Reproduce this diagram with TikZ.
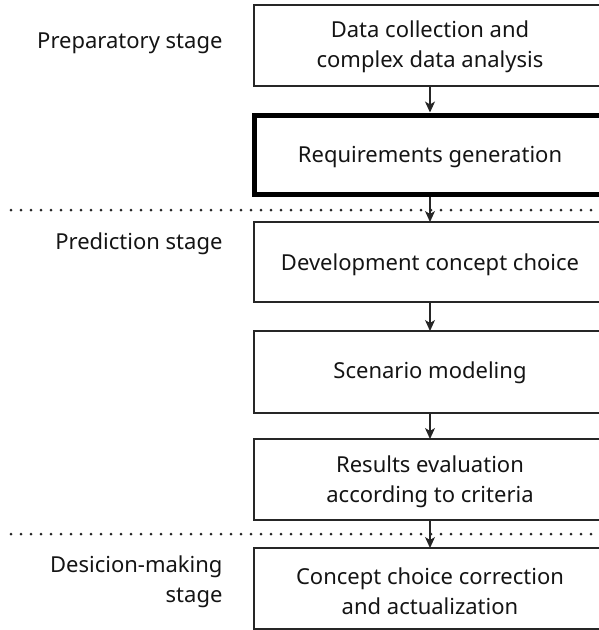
\documentclass[tikz,border=0pt]{standalone}
\usepackage{fontspec}
\setmainfont{Noto Sans}
\usetikzlibrary{arrows.meta}
\begin{document}
\begin{tikzpicture}[x=1pt,y=-1pt,
  every node/.style={font=\fontsize{22}{30}\selectfont, text=black!92},
  stepbox/.style={draw=black!85, line width=1.3pt},
  keybox/.style={draw=black, line width=5pt},
  flow/.style={-{Stealth[length=11pt,width=10pt,inset=3pt]}, line width=1.3pt, draw=black!85},
  divider/.style={line width=3pt, dash pattern=on 0pt off 10pt, line cap=round, draw=black!85},
  stagelabel/.style={anchor=east, align=right}]
\useasboundingbox (0,0) rectangle (599,630);

% process boxes (right edges run past the page)
\draw[stepbox] (254,5) rectangle (610,86);
\draw[keybox] (254.5,115) rectangle (610,194.5);
\draw[stepbox] (254,222) rectangle (610,302);
\draw[stepbox] (254,331) rectangle (610,413);
\draw[stepbox] (254,439) rectangle (610,520);
\draw[stepbox] (254,548) rectangle (610,629);

\node[align=center] (b1) at (430,47) {Data collection and\\complex data analysis};
\node (b2) at (430,157) {Requirements generation};
\node (b3) at (430,265) {Development concept choice};
\node (b4) at (430,373) {Scenario modeling};
\node[align=center] (b5) at (430,482) {Results evaluation\\according to criteria};
\node[align=center] (b6) at (430,591) {Concept choice correction\\and actualization};

% box edges used by the connectors
\coordinate (b1s) at (430,86);
\coordinate (b2n) at (430,112.5);
\coordinate (b2s) at (430,197);
\coordinate (b3n) at (430,222);
\coordinate (b3s) at (430,302);
\coordinate (b4n) at (430,331);
\coordinate (b4s) at (430,413);
\coordinate (b5n) at (430,439);
\coordinate (b5s) at (430,520);
\coordinate (b6n) at (430,548);

\draw[flow] (b1s) -- (b2n);
\draw[flow] (b2s) -- (b3n);
\draw[flow] (b3s) -- (b4n);
\draw[flow] (b4s) -- (b5n);
\draw[flow] (b5s) -- (b6n);

% stage dividers
\coordinate (d1a) at (11,210); \coordinate (d1b) at (600,210);
\coordinate (d2a) at (11,534); \coordinate (d2b) at (600,534);
\draw[divider] (d1a) -- (d1b);
\draw[divider] (d2a) -- (d2b);

% stage labels
\node[stagelabel] (s1) at (226,43) {Preparatory stage};
\node[stagelabel] (s2) at (226,244) {Prediction stage};
\node[stagelabel] (s3) at (226,582) {Desicion-making\\stage};
\end{tikzpicture}
\end{document}
